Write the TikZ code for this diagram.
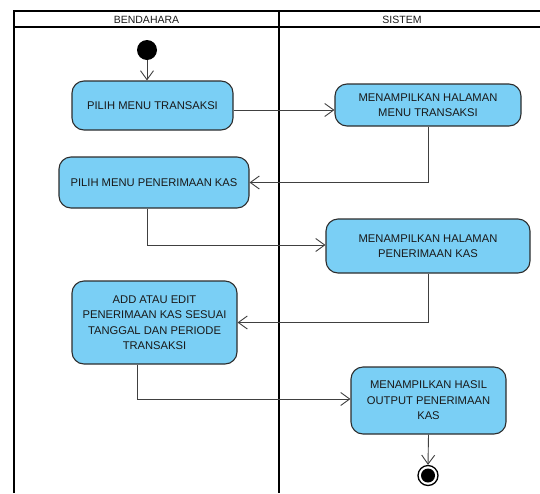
\documentclass[tikz,border=0pt]{standalone}
\usepackage{fontspec}
\setmainfont{Liberation Sans}
\usetikzlibrary{arrows.meta}
\definecolor{actfill}{RGB}{122,207,245}
\definecolor{actline}{RGB}{45,45,45}
\definecolor{flowline}{RGB}{64,64,64}
\definecolor{txt}{RGB}{25,25,25}
\tikzset{
  lane/.style={line width=2pt, black},
  act/.style={draw=actline, line width=1.1pt, fill=actfill, rounded corners=12pt,
    align=center, text=txt, font=\fontsize{11.2}{15.5}\selectfont, inner sep=0pt},
  flow/.style={draw=flowline, line width=0.9pt,
    -{Straight Barb[length=9pt,width=13pt,line width=0.9pt]}},
  lanetitle/.style={font=\fontsize{10.5}{12}\selectfont, text=txt, inner sep=0pt},
}
\begin{document}
\begin{tikzpicture}[x=1pt,y=-1pt]
\useasboundingbox (0,0) rectangle (540,493);

% swimlane frame
\draw[lane] (540,11) -- (14,11) -- (14,493);
\draw[lane] (14,27) -- (540,27);
\draw[lane] (279,11) -- (279,493);
\node[lanetitle] (laneA) at (146.5,19.5) {BENDAHARA};
\node[lanetitle] (laneB) at (402,19.5) {SISTEM};

% activities
\node[act, minimum width=161pt, minimum height=49pt] (b1) at (152.5,105.5) {PILIH MENU TRANSAKSI};
\node[act, minimum width=186pt, minimum height=42pt] (b2) at (428,105) {MENAMPILKAN HALAMAN\\MENU TRANSAKSI};
\node[act, minimum width=190pt, minimum height=51pt] (b3) at (154,182.5) {PILIH MENU PENERIMAAN KAS};
\node[act, minimum width=204pt, minimum height=54pt] (b4) at (428,246) {MENAMPILKAN HALAMAN\\PENERIMAAN KAS};
\node[act, minimum width=165pt, minimum height=83pt] (b5) at (154.5,322.5) {ADD ATAU EDIT\\PENERIMAAN KAS SESUAI\\TANGGAL DAN PERIODE\\TRANSAKSI};
\node[act, minimum width=155pt, minimum height=67pt] (b6) at (428.5,400.5) {MENAMPILKAN HASIL\\OUTPUT PENERIMAAN\\KAS};

% initial and final nodes
\node[circle, fill=black, minimum size=20pt, inner sep=0pt] (start) at (147,50) {};
\node[circle, draw=black, line width=1.3pt, fill=white, minimum size=20pt, inner sep=0pt] (stop) at (428,475.5) {};
\node[circle, fill=black, minimum size=14pt, inner sep=0pt] (stopdot) at (428,475.5) {};

% routing helpers
\coordinate (r1) at (0,110);
\coordinate (r3) at (147,245);
\coordinate (r5) at (137,399);

% control flow
\draw[flow] (start) -- (start |- b1.north);
\draw[flow] (b1.east |- r1) -- (b2.west |- r1);
\draw[flow] (b2.south) |- (b3.east);
\draw[flow] (b3.south -| r3) |- (b4.west |- r3);
\draw[flow] (b4.south) |- (b5.east);
\draw[flow] (b5.south -| r5) |- (b6.west |- r5);
\draw[flow] (b6.south) -- (stop.north);
\end{tikzpicture}
\end{document}
